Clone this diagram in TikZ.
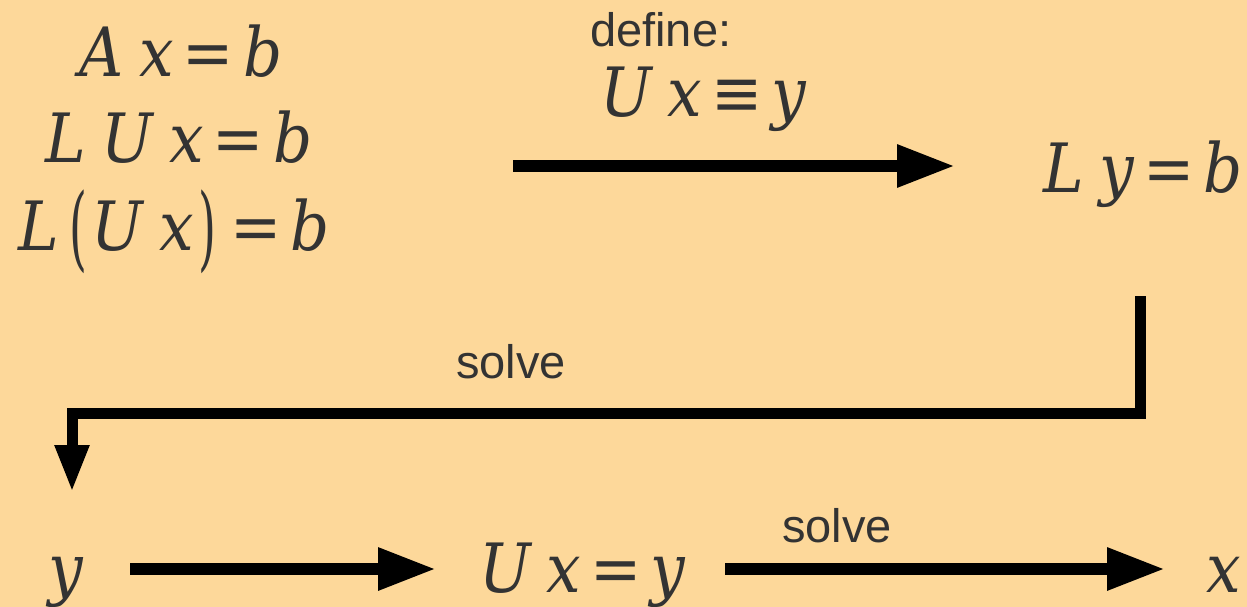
\documentclass[tikz,border=0pt]{standalone}
\usepackage{fontspec}
\setmainfont{DejaVu Serif Condensed}
\newfontfamily\lsans{Liberation Sans}
\usetikzlibrary{arrows.meta}
\definecolor{bgc}{HTML}{FDD89A}
\definecolor{ink}{HTML}{333333}
\newcommand\mv[1]{{\itshape #1}}
\newcommand\gp{\hspace{16pt}}
\newcommand\eqs[1]{\hspace{9pt}#1\hspace{9pt}}
\newcommand\tallp[1]{\raisebox{-9pt}{\scalebox{0.75}[1.35]{#1}}}
\begin{document}
\begin{tikzpicture}[x=1pt,y=-1pt,
  eq/.style={font=\fontsize{68}{70}\selectfont, text=ink, inner sep=0pt, anchor=base west},
  lab/.style={font=\lsans\fontsize{47}{50}\selectfont, text=ink, inner sep=0pt, anchor=base west},
  bigarrow/.style={draw=black, line width=12pt, -{Triangle[length=58pt,width=40pt]}},
  elbowarrow/.style={draw=black, line width=11pt, line join=miter, -{Triangle[length=47pt,width=32pt]}}]
\useasboundingbox (0,0) rectangle (1247,607);
\fill[bgc] (0,0) rectangle (1247,607);
% equations
\node[eq] (e1) at (79,77) {\mv{A}\gp\mv{x}\eqs{=}\mv{b}};
\node[eq] (e2) at (45,162) {\mv{L}\gp\mv{U}\gp\mv{x}\eqs{=}\mv{b}};
\node[eq] (e3) at (18,250) {\mv{L}\hspace{11pt}\tallp{(}\hspace{4pt}\mv{U}\gp\mv{x}\hspace{5pt}\tallp{)}\hspace{5pt}\eqs{=}\mv{b}};
\node[eq] (e4) at (600,117) {\mv{U}\gp\mv{x}\eqs{≡}\mv{y}};
\node[eq] (e5) at (1043,192) {\mv{L}\gp\mv{y}\eqs{=}\mv{b}};
\node[eq] (e6) at (48,592) {\mv{y}};
\node[eq] (e7) at (479,592) {\mv{U}\gp\mv{x}\eqs{=}\mv{y}};
\node[eq] (e8) at (1206,592) {\mv{x}};
% labels
\node[lab] (l1) at (590,47) {define:};
\node[lab] (l2) at (456,378) {solve};
\node[lab] (l3) at (782,542) {solve};
% connector coordinates
\coordinate (a1s) at (513,166);
\coordinate (a1e) at (955,166);
\coordinate (a2s) at (1140,296);
\coordinate (a2m) at (72,413);
\coordinate (a2e) at (72,492);
\coordinate (a3s) at (130,569);
\coordinate (a3e) at (436,569);
\coordinate (a4s) at (725,569);
\coordinate (a4e) at (1165,569);
\draw[bigarrow] (a1s) -- (a1e);
\draw[elbowarrow] (a2s) |- (a2m) -- (a2e);
\draw[bigarrow] (a3s) -- (a3e);
\draw[bigarrow] (a4s) -- (a4e);
\end{tikzpicture}
\end{document}
